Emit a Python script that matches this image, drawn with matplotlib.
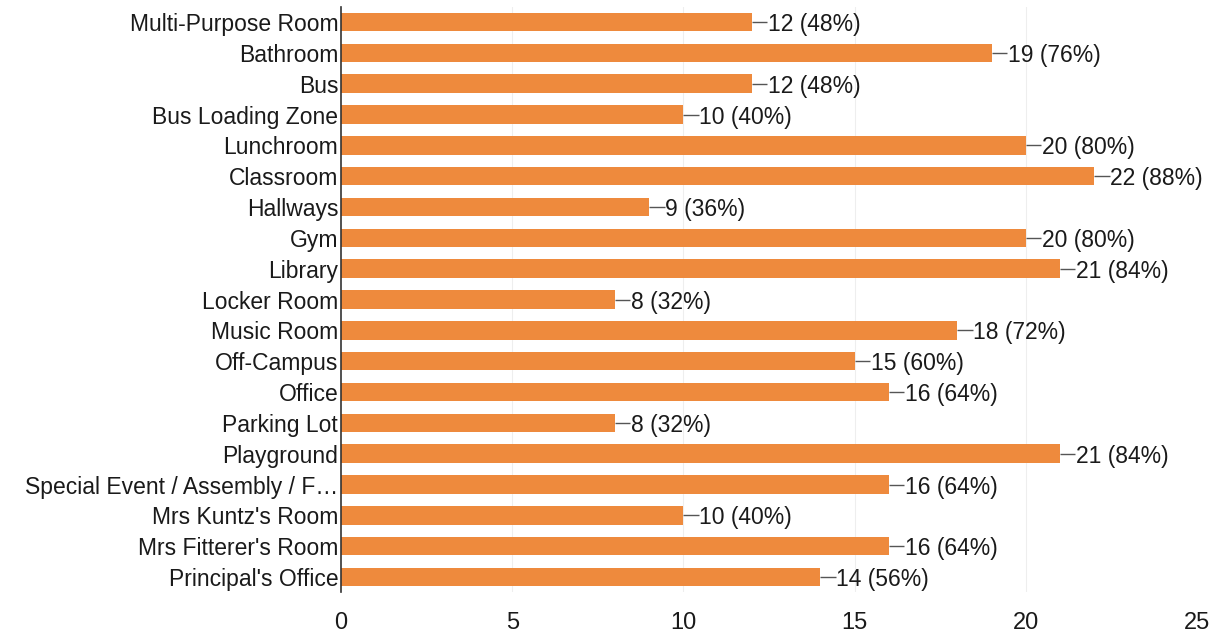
import matplotlib.pyplot as plt

plt.rcParams['font.family'] = ['Liberation Sans', 'DejaVu Sans']

# Data
categories = [
    "Multi-Purpose Room", "Bathroom", "Bus", "Bus Loading Zone", "Lunchroom",
    "Classroom", "Hallways", "Gym", "Library", "Locker Room", "Music Room",
    "Off-Campus", "Office", "Parking Lot", "Playground",
    "Special Event / Assembly / F\u2026", "Mrs Kuntz's Room",
    "Mrs Fitterer's Room", "Principal's Office",
]
counts = [12, 19, 12, 10, 20, 22, 9, 20, 21, 8, 18, 15, 16, 8, 21, 16, 10, 16, 14]
total = 25
xticks = [0, 5, 10, 15, 20, 25]

bar_color = '#ee8a3d'
txt_color = '#1a1a1a'

fig = plt.figure(figsize=(12.19, 6.33), dpi=100, facecolor='white')
ax = fig.add_axes([0.2797, 0.064, 0.7023, 0.9256])

y = list(range(len(categories)))
ax.barh(y, counts, height=0.6, color=bar_color, zorder=2)

# value labels with small leader line
for yi, c in zip(y, counts):
    ax.plot([c, c + 0.45], [yi, yi], color='#555555', lw=1.0, zorder=3,
            solid_capstyle='butt')
    ax.text(c + 0.47, yi, f"{c} ({c / total:.0%})", va='center_baseline',
            ha='left', fontsize=16.5, color=txt_color)

ax.set_xlim(0, 25)
ax.set_ylim(len(categories) - 0.5, -0.5)
ax.set_yticks(y)
ax.set_yticklabels(categories, fontsize=16.5, color=txt_color,
                   va='center_baseline')
ax.set_xticks(xticks)
ax.set_xticklabels([str(t) for t in xticks], fontsize=17, color=txt_color)
ax.tick_params(axis='both', length=0)
ax.tick_params(axis='x', pad=14)
ax.tick_params(axis='y', pad=2)

for x in xticks[1:-1]:
    ax.axvline(x, color='#eeeeee', lw=0.8, zorder=0)

for s in ['top', 'right', 'bottom']:
    ax.spines[s].set_visible(False)
ax.spines['left'].set_color('#333333')
ax.spines['left'].set_linewidth(1.2)

plt.savefig('out.png', dpi=100)
